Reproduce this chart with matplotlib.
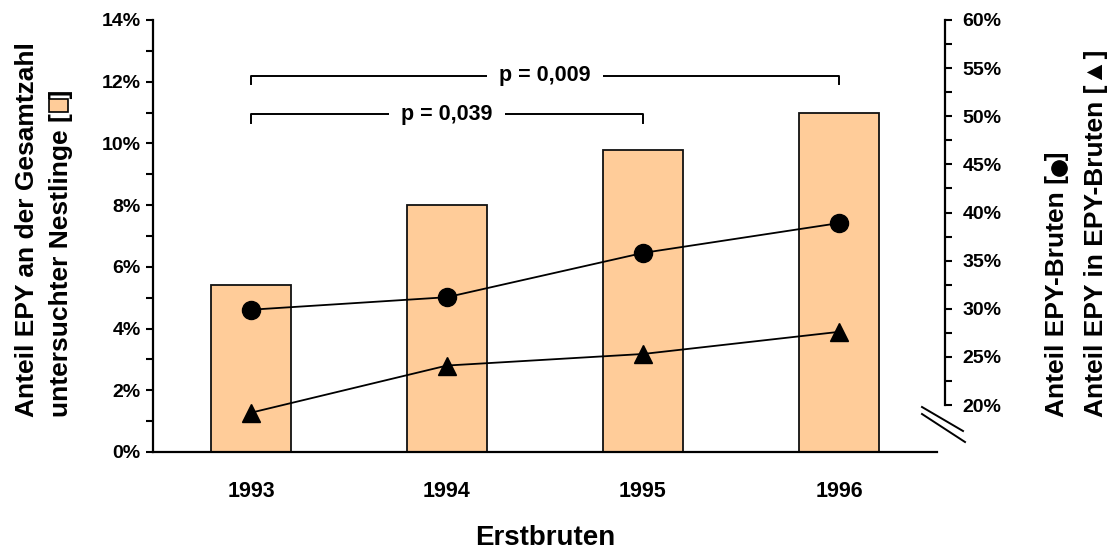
import matplotlib
matplotlib.use("Agg")
import matplotlib.pyplot as plt
from matplotlib.patches import Rectangle
from matplotlib.lines import Line2D
from matplotlib.font_manager import FontProperties
from matplotlib.ticker import MultipleLocator, PercentFormatter

plt.rcParams['font.family'] = ['Liberation Sans', 'DejaVu Sans']
plt.rcParams['font.weight'] = 'bold'

years = ['1993', '1994', '1995', '1996']
epy_nestlinge = [5.4, 8.0, 9.8, 11.0]      # bars, left axis (%)
epy_bruten = [29.9, 31.2, 35.8, 38.9]      # circles, right axis (%)
epy_in_bruten = [19.2, 24.1, 25.3, 27.6]   # triangles, right axis (%)
comparisons = [(0, 3, 'p = 0,009'), (0, 2, 'p = 0,039')]
bracket_levels = [12.2, 10.95]

W, H = 1115, 552
fig = plt.figure(figsize=(W / 100, H / 100), dpi=100)
ax = fig.add_axes([153 / W, 1 - 452 / H, 784 / W, 432 / H])
x = range(len(years))

bar_color = '#FFCC99'
ax.bar(x, epy_nestlinge, width=0.41, color=bar_color, edgecolor='#111111', linewidth=1.3, zorder=1)
ax.set_xlim(-0.5, 3.5)
ax.set_ylim(0, 14)
ax.yaxis.set_major_locator(MultipleLocator(2))
ax.yaxis.set_minor_locator(MultipleLocator(1))
ax.yaxis.set_major_formatter(PercentFormatter(decimals=0))
ax.set_xticks(list(x))
ax.set_xticklabels(years, fontsize=15.5, fontweight='bold')
ax.tick_params(axis='x', length=0, pad=21)
ax.tick_params(axis='y', which='both', length=5, width=1.5, labelsize=14, pad=3.8)
for s in ['top', 'right']:
    ax.spines[s].set_visible(False)
for s in ['left', 'bottom']:
    ax.spines[s].set_linewidth(1.6)

# significance brackets
for (a, b, txt), lev in zip(comparisons, bracket_levels):
    ax.plot([a, a, b, b], [lev - 0.28, lev, lev, lev - 0.28], color='black', lw=1.4, zorder=2)
    ax.text((a + b) / 2, lev, txt, ha='center', va='center', fontsize=15.5, fontweight='bold',
            bbox=dict(facecolor='white', edgecolor='none', pad=9), zorder=3)

ax2 = ax.twinx()
ax2.plot(x, epy_bruten, color='black', lw=1.3, marker='o', markersize=13, zorder=4)
ax2.plot(x, epy_in_bruten, color='black', lw=1.3, marker='^', markersize=13, zorder=4)
ax2.set_ylim(20 - 47 / 9.625, 60)
ax2.yaxis.set_major_formatter(PercentFormatter(decimals=0))
ax2.set_yticks([20, 25, 30, 35, 40, 45, 50, 55, 60])
ax2.set_yticks([22.5, 27.5, 32.5, 37.5, 42.5, 47.5, 52.5, 57.5], minor=True)
ax2.tick_params(axis='y', which='both', length=5, width=1.5, labelsize=14, pad=7.5)
for s in ['top', 'left', 'bottom']:
    ax2.spines[s].set_visible(False)
ax2.spines['right'].set_position(('axes', 792 / 784))
ax2.spines['right'].set_bounds(20, 60)
ax2.spines['right'].set_linewidth(1.6)
for lab in ax.get_yticklabels() + ax2.get_yticklabels():
    lab.set_fontweight('bold')

# axis break marks
for (x0, y0), (x1, y1) in [((922, 407), (963, 431)), ((922, 414), (965, 442))]:
    fig.add_artist(Line2D([x0 / W, x1 / W], [1 - y0 / H, 1 - y1 / H], color='black', lw=1.4))

# axis titles
label_prop = FontProperties(family=['Liberation Sans', 'DejaVu Sans'], weight='bold', size=19)
renderer = fig.canvas.get_renderer()


def text_len(s):
    w, _, _ = renderer.get_text_width_height_descent(s, label_prop, ismath=False)
    return w


def symbol_center(prefix):
    # distance (px) from the start of a rotated label to the middle of its "[  ]"
    return text_len(prefix) + text_len('[  ]') / 2


fig.text(545 / W, 1 - 538 / H, 'Erstbruten', ha='center', va='center', fontsize=20, fontweight='bold')
fig.text(27 / W, 1 - 417 / H, 'Anteil EPY an der Gesamtzahl', rotation=90, ha='center', va='bottom',
         fontproperties=label_prop)
fig.text(61 / W, 1 - 417 / H, 'untersuchter Nestlinge [  ]', rotation=90, ha='center', va='bottom',
         fontproperties=label_prop)
box_mid = 417 - symbol_center('untersuchter Nestlinge ')
fig.add_artist(Rectangle((49 / W, 1 - (box_mid + 6.5) / H), 19 / W, 13 / H, transform=fig.transFigure,
                         facecolor=bar_color, edgecolor='black', lw=1.2))
fig.text(1057 / W, 1 - 417 / H, 'Anteil EPY-Bruten [  ]', rotation=90, ha='center', va='bottom',
         fontproperties=label_prop)
dot_mid = 417 - symbol_center('Anteil EPY-Bruten ')
fig.add_artist(Line2D([1059 / W], [1 - dot_mid / H], marker='o', markersize=11, color='black',
                      transform=fig.transFigure))
fig.text(1096 / W, 1 - 417 / H, 'Anteil EPY in EPY-Bruten [▲]', rotation=90, ha='center', va='bottom',
         fontproperties=label_prop)

fig.savefig('out.png', dpi=100)
